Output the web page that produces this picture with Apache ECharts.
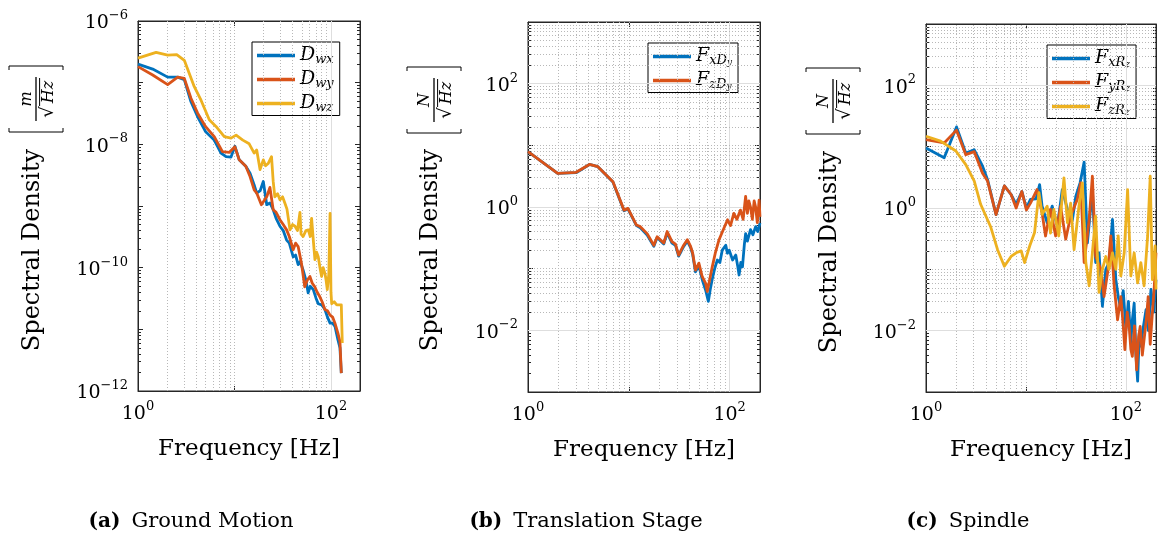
<!DOCTYPE html>
<html>
<head>
<meta charset="utf-8">
<script src="https://cdn.jsdelivr.net/npm/echarts@6/dist/echarts.min.js"></script>
<style>
html,body{margin:0;padding:0;background:#fff;}
#chart{width:1161px;height:542px;}
</style>
</head>
<body>
<div id="chart"></div>
<script>
// ---------------- DATA (frequency [Hz], spectral density) ----------------
// (a) Ground Motion  [m/sqrt(Hz)]
const dwx = [[1,2.0e-7],[1.42,1.66e-7],[2.03,1.23e-7],[2.58,1.23e-7],[3.02,1.12e-7],[3.54,4.9e-8],[4.15,2.8e-8],[5.0,1.62e-8],[6.17,1.17e-8],[7.25,7.2e-9],[8.18,6.3e-9],[9.2,6.2e-9],[10.1,9.3e-9],[11.2,5.6e-9],[13.1,4.4e-9],[14.5,3.4e-9],[16,2.2e-9],[17,1.62e-9],[18.5,1.78e-9],[19.9,2.5e-9],[21.6,1.05e-9],[23.3,1.12e-9],[25.2,8.7e-10],[27,6.3e-10],[29.6,4.7e-10],[32,4.0e-10],[34.7,2.8e-10],[37,2.5e-10],[40.6,1.5e-10],[43,1.6e-10],[45.7,1.12e-10],[48,1.26e-10],[51.5,9.1e-11],[55,6.3e-11],[58,3.9e-11],[61,5.0e-11],[65.6,4.4e-11],[70,3.2e-11],[73.8,2.6e-11],[80,2.5e-11],[86.6,2.1e-11],[92,1.58e-11],[97.9,1.26e-11],[104,1.26e-11],[110,1.12e-11],[118,6.8e-12],[124,5.0e-12],[128,1.95e-12]];
const dwy = [[1,1.82e-7],[1.42,1.33e-7],[2.03,9.3e-8],[2.58,1.23e-7],[3.02,1.17e-7],[3.54,5.6e-8],[4.15,3.2e-8],[5.0,1.95e-8],[6.17,1.33e-8],[7.5,7.6e-9],[8.8,7.4e-9],[10.1,9.1e-9],[11.2,5.6e-9],[13.1,4.4e-9],[14.5,3.0e-9],[16,1.82e-9],[17,1.62e-9],[19,1.05e-9],[21.6,1.41e-9],[23.3,2.0e-9],[25.2,8.7e-10],[27,7.9e-10],[29.6,6.0e-10],[32,5.0e-10],[34.7,4.1e-10],[37,3.2e-10],[40.6,1.95e-10],[43,2.5e-10],[45.7,2.2e-10],[49.5,1.17e-10],[53.5,4.9e-11],[57,6.3e-11],[60.5,7.2e-11],[64,5.6e-11],[68,4.9e-11],[72,4.0e-11],[76.5,3.4e-11],[81,2.8e-11],[86.6,2.1e-11],[92,2.0e-11],[97.9,1.7e-11],[104,1.58e-11],[110,1.26e-11],[118,8.7e-12],[124,6.3e-12],[128,1.95e-12]];
const dwz = [[1,2.5e-7],[1.54,3.1e-7],[2.03,2.8e-7],[2.52,2.85e-7],[3.02,2.3e-7],[3.83,8.6e-8],[4.5,5.2e-8],[5.48,2.5e-8],[6.43,1.95e-8],[7.84,1.33e-8],[9.2,1.26e-8],[10.4,1.41e-8],[12.2,1.17e-8],[14.2,1.02e-8],[16,7.2e-9],[17,8.1e-9],[18.4,3.9e-9],[19.9,5.6e-9],[21,4.5e-9],[22.4,4.9e-9],[24.2,6.3e-9],[25.2,2.5e-9],[26.2,1.41e-9],[28,1.58e-9],[29.6,1.26e-9],[31.5,1.41e-9],[33.4,1.1e-9],[35,8.9e-10],[37.6,4.1e-10],[40,5.0e-10],[42.4,4.7e-10],[45,4.0e-10],[47.7,7.9e-10],[49,3.5e-10],[51.5,3.2e-10],[55,4.0e-10],[58.2,4.1e-10],[61,3.2e-10],[63,6.3e-10],[66,2.5e-10],[68.2,1.35e-10],[71,1.78e-10],[73.8,1.5e-10],[77,1.0e-10],[80,7.2e-11],[83,1.0e-10],[86.6,8.1e-11],[89,6.3e-11],[91.6,4.4e-11],[95,7.9e-11],[97.9,7.6e-10],[100,4.0e-11],[101.8,2.6e-11],[108,2.8e-11],[114.8,2.5e-11],[120,2.4e-11],[128,2.5e-11],[131,6.0e-12]];

// (b) Translation Stage  [N/sqrt(Hz)]
const fxDy = [[1,7.9],[1.97,3.5],[3.0,3.6],[4.07,4.9],[4.93,4.5],[6.96,2.55],[8.96,0.87],[9.8,0.93],[11.9,0.5],[13,0.46],[15.2,0.35],[17.7,0.23],[19.1,0.32],[22.2,0.25],[24,0.38],[26.8,0.26],[29,0.24],[31.2,0.16],[33,0.19],[35,0.23],[38,0.28],[41,0.22],[43,0.17],[45.8,0.089],[49.5,0.112],[53.5,0.066],[57.8,0.0447],[61.5,0.0295],[64,0.0447],[67,0.066],[71,0.1],[75.5,0.138],[80,0.126],[84.5,0.2],[91.5,0.24],[95,0.178],[99,0.2],[107,0.138],[115,0.166],[120,0.112],[124,0.079],[129,0.126],[134,0.107],[140,0.25],[144,0.37],[150,0.28],[161,0.43],[170,0.355],[181,0.48],[190,0.4],[200,0.55]];
const fzDy = [[1,7.9],[1.97,3.5],[3.0,3.65],[4.07,4.9],[4.93,4.5],[6.96,2.57],[8.96,0.89],[9.8,0.95],[11.9,0.51],[13,0.48],[15.2,0.37],[17.7,0.24],[19.1,0.33],[22.2,0.26],[24,0.40],[26.8,0.275],[29,0.25],[31.2,0.166],[33,0.2],[35,0.24],[38,0.295],[41,0.23],[43,0.178],[45.8,0.095],[49.5,0.123],[53.5,0.074],[57.8,0.0575],[60,0.0427],[63,0.063],[67.2,0.107],[72,0.178],[78.5,0.295],[85,0.40],[95.3,0.62],[102,0.5],[110,0.79],[118,0.63],[128,0.89],[136,0.63],[144,1.48],[150,0.79],[155,1.26],[161,1.0],[168,0.63],[175,1.26],[181,1.0],[188,0.56],[196,1.29],[200,0.69]];

// (c) Spindle  [N/sqrt(Hz)]
const fxRz = [[1,9.5],[1.52,6.6],[2.02,21],[2.5,7.9],[3.04,8.9],[3.68,4.8],[4.13,2.9],[5.02,0.78],[6.08,2.3],[7.1,1.66],[7.98,1.15],[9.1,1.86],[10.1,1.0],[11.1,1.38],[12.6,1.41],[13.7,2.4],[14.5,1.07],[16.3,0.575],[18.3,1.07],[20.6,0.5],[23.1,2.0],[26,0.95],[29.2,0.65],[31.5,1.55],[34.8,2.57],[38.2,5.6],[41.2,0.27],[46.2,2.0],[49.8,0.129],[53.9,0.186],[58.2,0.025],[62.9,0.1],[67.9,0.129],[73.4,0.65],[79.3,0.068],[84,0.035],[89,0.022],[94,0.045],[100,0.0105],[106,0.03],[112,0.0063],[116,0.015],[121,0.028],[126,0.004],[131,0.0015],[136,0.009],[141,0.0056],[150,0.012],[159,0.022],[168,0.01],[178,0.047],[190,0.02],[200,0.068]];
const fyRz = [[1,13],[1.52,11.5],[2.02,18.6],[2.5,7.4],[3.04,8.3],[3.68,3.7],[4.13,2.75],[5.02,0.78],[6.08,2.3],[7.1,1.66],[7.98,1.0],[9.1,1.86],[10.1,0.93],[11.1,1.2],[12.9,2.0],[14.5,0.83],[15.7,0.35],[17.6,0.95],[19.8,0.35],[22.2,1.07],[25,0.31],[28,0.74],[32.6,1.38],[35.3,2.57],[38.2,0.129],[42.9,0.65],[46.2,3.3],[49.8,0.162],[56,0.1],[60.4,0.036],[66.3,0.1],[70.7,0.35],[76.3,0.054],[82.5,0.015],[89,0.036],[94,0.012],[97.7,0.0049],[103,0.02],[107.8,0.0117],[112,0.005],[116,0.0038],[122,0.012],[128,0.0023],[134,0.008],[139,0.0117],[146,0.004],[152,0.0038],[160,0.015],[167,0.036],[175,0.006],[184,0.0195],[192,0.05],[200,0.186]];
const fzRz = [[1,14.8],[1.40,12.3],[1.99,8.5],[2.5,5.1],[3.04,2.75],[3.52,1.15],[4.42,0.5],[5.2,0.209],[6.08,0.112],[7.1,0.162],[7.98,0.186],[8.96,0.2],[9.7,0.129],[10.9,0.24],[12.2,0.4],[13.5,1.78],[14.5,0.79],[16.3,1.07],[17.6,0.39],[19,0.95],[21.3,0.35],[24,3.1],[26,0.575],[28,1.2],[30.3,0.209],[33.9,1.07],[36.7,2.57],[39.7,0.129],[42.9,0.054],[46.2,0.186],[49.8,0.74],[53.9,0.042],[58.2,0.1],[62.9,0.162],[67.9,0.1],[73.4,0.186],[79.3,0.1],[83.7,0.35],[89,0.078],[96.2,0.186],[104,2.0],[112,0.078],[121,0.186],[131,0.06],[141,0.129],[152,0.054],[165,0.35],[175,3.3],[184,0.068],[196,0.24],[200,0.047]];

// Axis ranges
const xRange = [1, 200];
const yRangeA = [1e-12, 1e-6];
const yRangeBC = [1e-3, 1e3];

// Legend labels (math notation)
const legendLabels = {
  Dwx: '{i|D}{s|wx}', Dwy: '{i|D}{s|wy}', Dwz: '{i|D}{s|wz}',
  FxDy: '{i|F}{s|xD}{ss|y}', FzDy: '{i|F}{s|zD}{ss|y}',
  FxRz: '{i|F}{s|xR}{ss|z}', FyRz: '{i|F}{s|yR}{ss|z}', FzRz: '{i|F}{s|zR}{ss|z}'
};
const captions = [['(a)', 'Ground Motion'], ['(b)', 'Translation Stage'], ['(c)', 'Spindle']];

// ---------------- STYLE ----------------
const FONT = 'DejaVu Serif';
const C_BLUE = '#0072BD', C_RED = '#D95319', C_YEL = '#EDB120';
const LW = 2.8;

const grids = [
  {left: 138, top: 21, width: 222, height: 370},
  {left: 528, top: 22, width: 232, height: 370},
  {left: 926, top: 24, width: 230, height: 368}
];

function powLabel(v) {
  const e = Math.log10(v);
  const r = Math.round(e);
  if (Math.abs(e - r) > 1e-6 || r % 2 !== 0) return '';
  const s = r < 0 ? '\u2212' + (-r) : String(r);
  return '{b|10}{s|' + s + '}';
}
const powRich = {
  b: {fontFamily: FONT, fontSize: 19, lineHeight: 24, verticalAlign: 'bottom', color: '#000'},
  s: {fontFamily: FONT, fontSize: 13, lineHeight: 24, verticalAlign: 'top', color: '#000'}
};

// grid lines (major solid at even decades, dotted elsewhere)
function gridMarks(xr, yr) {
  const solid = {type: 'solid', color: '#dedede', width: 1};
  const dot = {type: [1, 2], color: '#b8b8b8', width: 1};
  const out = [];
  const x0 = Math.round(Math.log10(xr[0]));
  for (let e = x0; Math.pow(10, e) < xr[1]; e++) {
    for (let k = 1; k <= 9; k++) {
      const v = k * Math.pow(10, e);
      if (v <= xr[0] || v >= xr[1]) continue;
      out.push({xAxis: v, lineStyle: (k === 1 && e % 2 === 0) ? solid : dot});
    }
  }
  const y0 = Math.round(Math.log10(yr[0])), y1 = Math.round(Math.log10(yr[1]));
  for (let e = y0; e < y1; e++) {
    for (let k = 1; k <= 9; k++) {
      if (k === 1 && e === y0) continue;
      const v = k * Math.pow(10, e);
      out.push({yAxis: v, lineStyle: (k === 1 && e % 2 === 0) ? solid : dot});
    }
  }
  return out;
}

const xAxes = [], yAxes = [];
const yRanges = [yRangeA, yRangeBC, yRangeBC];
const axisLineStyle = {show: true, onZero: false, lineStyle: {color: '#262626', width: 1}};
for (let i = 0; i < 3; i++) {
  xAxes.push({
    type: 'log', gridIndex: i, min: xRange[0], max: xRange[1], position: 'bottom',
    axisLine: axisLineStyle,
    axisTick: {show: true, inside: true, length: 5, lineStyle: {color: '#262626'}},
    axisLabel: {show: true, margin: 9, formatter: powLabel, rich: powRich, fontFamily: FONT, fontSize: 19, color: '#000', hideOverlap: false},
    splitLine: {show: false},
    name: 'Frequency [Hz]', nameLocation: 'middle', nameGap: 47,
    nameTextStyle: {fontFamily: FONT, fontSize: 23, color: '#000'}
  });
  xAxes.push({
    type: 'log', gridIndex: i, min: xRange[0], max: xRange[1], position: 'top',
    axisLine: axisLineStyle,
    axisTick: {show: true, inside: true, length: 5, lineStyle: {color: '#262626'}},
    axisLabel: {show: false}, splitLine: {show: false}
  });
  yAxes.push({
    type: 'log', gridIndex: i, min: yRanges[i][0], max: yRanges[i][1], position: 'left',
    axisLine: axisLineStyle,
    axisTick: {show: true, inside: true, length: 5, lineStyle: {color: '#262626'}},
    minorTick: {show: true, splitNumber: 9, length: 3, lineStyle: {color: '#262626'}},
    axisLabel: {show: true, margin: 10, formatter: powLabel, rich: powRich, fontFamily: FONT, fontSize: 19, color: '#000', hideOverlap: false},
    splitLine: {show: false}
  });
  yAxes.push({
    type: 'log', gridIndex: i, min: yRanges[i][0], max: yRanges[i][1], position: 'right',
    axisLine: axisLineStyle,
    axisTick: {show: true, inside: true, length: 5, lineStyle: {color: '#262626'}},
    minorTick: {show: true, splitNumber: 9, length: 3, lineStyle: {color: '#262626'}},
    axisLabel: {show: false}, splitLine: {show: false}
  });
}

function dataSeries(name, data, color, gi) {
  return {
    name: name, type: 'line', data: data, xAxisIndex: 2 * gi, yAxisIndex: 2 * gi,
    showSymbol: false, symbol: 'none', z: 10, clip: true,
    lineStyle: {color: color, width: LW, join: 'round'}, itemStyle: {color: color},
    emphasis: {disabled: true}
  };
}
function gridSeries(gi) {
  return {
    name: '_grid' + gi, type: 'line', data: [], xAxisIndex: 2 * gi, yAxisIndex: 2 * gi,
    silent: true, z: 1,
    markLine: {silent: true, symbol: ['none', 'none'], label: {show: false}, animation: false,
      emphasis: {disabled: true}, data: gridMarks(xRange, yRanges[gi])}
  };
}

const series = [
  gridSeries(0), gridSeries(1), gridSeries(2),
  dataSeries('Dwx', dwx, C_BLUE, 0), dataSeries('Dwy', dwy, C_RED, 0), dataSeries('Dwz', dwz, C_YEL, 0),
  dataSeries('FxDy', fxDy, C_BLUE, 1), dataSeries('FzDy', fzDy, C_RED, 1),
  dataSeries('FxRz', fxRz, C_BLUE, 2), dataSeries('FyRz', fyRz, C_RED, 2), dataSeries('FzRz', fzRz, C_YEL, 2)
];

const legendRich = {
  i: {fontFamily: FONT, fontStyle: 'italic', fontSize: 19, lineHeight: 22, color: '#000'},
  s: {fontFamily: FONT, fontStyle: 'italic', fontSize: 13, lineHeight: 22, verticalAlign: 'bottom', color: '#000'},
  ss: {fontFamily: FONT, fontStyle: 'italic', fontSize: 9, lineHeight: 22, verticalAlign: 'bottom', color: '#000'}
};
function makeLegend(names, left, top) {
  return {
    data: names, left: left, top: top, orient: 'vertical', icon: 'rect',
    itemWidth: 38, itemHeight: 3.5, itemGap: 3.5, itemTextGap: 5,
    padding: [4, 6, 1, 5], backgroundColor: '#fff', borderColor: '#000', borderWidth: 1,
    borderRadius: 0, selectedMode: false,
    itemStyle: {borderWidth: 0},
    formatter: n => legendLabels[n],
    textStyle: {fontFamily: FONT, fontSize: 19, color: '#000', rich: legendRich}
  };
}

const center = {align: 'center', verticalAlign: 'middle', textAlign: 'center', textVerticalAlign: 'middle'};
function yTitle(cx, cy) {
  return {type: 'text', x: cx, y: cy, rotation: Math.PI / 2, silent: true,
    style: Object.assign({text: 'Spectral Density', font: '24px "' + FONT + '"', fill: '#000'}, center)};
}
function unitFrac(cx, cy, num) {
  const st = {stroke: '#000', lineWidth: 1, fill: null};
  return {type: 'group', x: cx, y: cy, rotation: Math.PI / 2, silent: true, children: [
    {type: 'text', x: 0, y: -9, style: Object.assign({text: num, font: 'italic 16px "' + FONT + '"', fill: '#000'}, center)},
    {type: 'line', shape: {x1: -22, y1: 0, x2: 22, y2: 0}, style: {stroke: '#000', lineWidth: 1.3}},
    {type: 'text', x: -13, y: 12, style: Object.assign({text: '\u221A', font: '18px "' + FONT + '"', fill: '#000'}, center)},
    {type: 'text', x: 7, y: 12.5, style: Object.assign({text: 'Hz', font: 'italic 16px "' + FONT + '"', fill: '#000'}, center)},
    {type: 'line', shape: {x1: -7, y1: 3.6, x2: 21, y2: 3.6}, style: {stroke: '#000', lineWidth: 1}},
    {type: 'polyline', shape: {points: [[-29, -27], [-33, -27], [-33, 27], [-29, 27]]}, style: st},
    {type: 'polyline', shape: {points: [[29, -27], [33, -27], [33, 27], [29, 27]]}, style: st}
  ]};
}
function caption(cx, cy, c) {
  return {type: 'text', x: cx, y: cy, silent: true,
    style: Object.assign({
      text: '{b|' + c[0] + '}' + c[1], font: '21px "' + FONT + '"', fill: '#000',
      rich: {b: {fontFamily: FONT, fontSize: 20, fontWeight: 'bold', padding: [0, 11, 0, 0], fill: '#000'}}
    }, center)};
}

const option = {
  animation: false,
  backgroundColor: '#fff',
  grid: grids.map(g => Object.assign({show: true, borderColor: '#262626', borderWidth: 1, backgroundColor: 'transparent', containLabel: false}, g)),
  xAxis: xAxes,
  yAxis: yAxes,
  legend: [
    makeLegend(['Dwx', 'Dwy', 'Dwz'], 252, 42),
    makeLegend(['FxDy', 'FzDy'], 648, 43),
    makeLegend(['FxRz', 'FyRz', 'FzRz'], 1047, 45)
  ],
  series: series,
  graphic: [
    yTitle(33, 250), yTitle(431, 250), yTitle(830, 252),
    unitFrac(36, 99, 'm'), unitFrac(434, 100, 'N'), unitFrac(833, 101, 'N'),
    caption(191, 522, captions[0]), caption(586, 522, captions[1]), caption(968, 522, captions[2])
  ]
};

const chart = echarts.init(document.getElementById('chart'), null, {renderer: 'canvas'});
chart.setOption(option);
</script>
</body>
</html>
